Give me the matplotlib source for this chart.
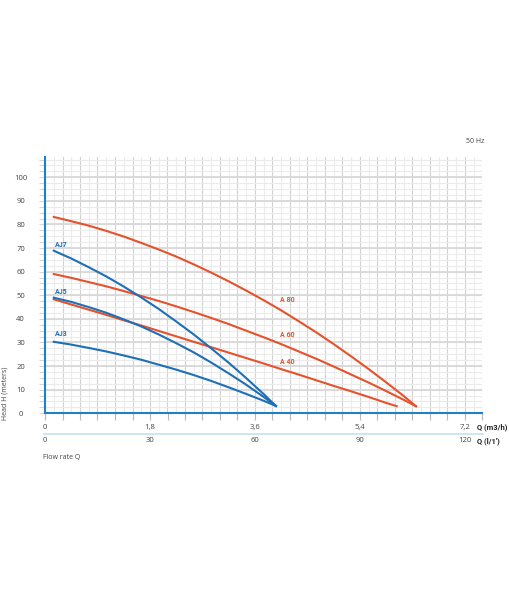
import numpy as np
import matplotlib
matplotlib.use("Agg")
import matplotlib.pyplot as plt
from matplotlib.transforms import blended_transform_factory
from matplotlib.lines import Line2D

plt.rcParams['font.family'] = ['Open Sans', 'DejaVu Sans']

# flow rate (m3/h) and head (m)
q_a = [0.15, 0.45, 0.75, 1.05, 1.35, 1.65, 1.95, 2.25, 2.55, 2.85, 3.15,
       3.45, 3.75, 4.05, 4.35, 4.65, 4.95, 5.25, 5.55, 5.85, 6.15, 6.36]
h_a80 = [83.2, 81.4, 79.5, 77.3, 74.9, 72.2, 69.4, 66.4, 63.1, 59.6, 55.9,
         52.0, 47.9, 43.6, 39.0, 34.3, 29.3, 24.1, 18.7, 13.1, 7.3, 3.0]
h_a60 = [59.0, 57.4, 55.6, 53.8, 51.8, 49.7, 47.6, 45.3, 42.9, 40.4, 37.8,
         35.0, 32.2, 29.3, 26.2, 23.1, 19.8, 16.4, 13.0, 9.4, 5.7, 3.0]
q_a40 = [0.15, 0.45, 0.75, 1.05, 1.35, 1.65, 1.95, 2.25, 2.55, 2.85, 3.15,
         3.45, 3.75, 4.05, 4.35, 4.65, 4.95, 5.25, 5.55, 5.85, 6.03]
h_a40 = [48.3, 46.1, 43.9, 41.7, 39.4, 37.2, 34.9, 32.6, 30.3, 28.0, 25.7,
         23.4, 21.1, 18.7, 16.4, 14.0, 11.6, 9.3, 6.9, 4.4, 3.0]

q_aj = [0.15, 0.45, 0.75, 1.05, 1.35, 1.65, 1.95, 2.25, 2.55, 2.85, 3.15,
        3.45, 3.75, 3.96]
h_aj7 = [68.9, 65.6, 61.9, 58.0, 53.7, 49.1, 44.2, 38.9, 33.4, 27.5, 21.4,
         14.9, 8.1, 3.1]
h_aj5 = [49.0, 47.2, 45.0, 42.6, 39.8, 36.8, 33.4, 29.7, 25.8, 21.5, 16.9,
         12.1, 6.9, 3.1]
h_aj3 = [30.3, 29.1, 27.7, 26.2, 24.5, 22.7, 20.6, 18.5, 16.2, 13.7, 11.0,
         8.2, 5.3, 3.1]

q_m3h_ticks = [0, 1.8, 3.6, 5.4, 7.2]
q_m3h_labels = ['0', '1,8', '3,6', '5,4', '7,2']
q_lmin_ticks = [0, 30, 60, 90, 120]
h_ticks = [0, 10, 20, 30, 40, 50, 60, 70, 80, 90, 100]

blue = '#1f6fb6'
red = '#e5522b'
spine_blue = '#1f80c6'
txt = '#444444'

fig = plt.figure(figsize=(5.1, 6.0), dpi=100)
ax = fig.add_axes([45 / 510, 1 - 413.3 / 600, 437.5 / 510, (413.3 - 157) / 600])
ax.set_xlim(0, 7.5)
ax.set_ylim(0, 108.6)

# grid
for x in np.arange(0.15, 7.5, 0.3):
    ax.axvline(x, color='#ececec', lw=0.8, zorder=0)
for x in np.arange(0.3, 7.51, 0.3):
    ax.axvline(x, color='#d2d2d2', lw=0.8, zorder=0)
for y in np.arange(2.5, 108.6, 2.5):
    ax.axhline(y, color='#ebebeb', lw=0.8, zorder=0)
for y in np.arange(10, 101, 10):
    ax.axhline(y, color='#d6d6d6', lw=1.2, zorder=0)

# curves
ax.plot(q_a, h_a80, color=red, lw=1.5, zorder=3)
ax.plot(q_a, h_a60, color=red, lw=1.5, zorder=3)
ax.plot(q_a40, h_a40, color=red, lw=1.5, zorder=3)
ax.plot(q_aj, h_aj7, color=blue, lw=1.5, zorder=4)
ax.plot(q_aj, h_aj5, color=blue, lw=1.5, zorder=4)
ax.plot(q_aj, h_aj3, color=blue, lw=1.5, zorder=4)

# curve labels
lbl = dict(fontsize=5, fontweight='bold', va='center', ha='left',
           family=['Roboto', 'DejaVu Sans'])
ax.text(0.17, 71.4, 'AJ7', color=blue, **lbl)
ax.text(0.17, 51.5, 'AJ5', color=blue, **lbl)
ax.text(0.17, 33.6, 'AJ3', color=blue, **lbl)
ax.text(4.03, 47.8, 'A 80', color=red, **lbl)
ax.text(4.03, 33.2, 'A 60', color=red, **lbl)
ax.text(4.03, 21.6, 'A 40', color=red, **lbl)

# spines
for s in ['top', 'right']:
    ax.spines[s].set_visible(False)
ax.spines['left'].set_color(spine_blue)
ax.spines['bottom'].set_color(spine_blue)
ax.spines['left'].set_linewidth(1.5)
ax.spines['bottom'].set_linewidth(1.5)

# ticks
ax.set_yticks(h_ticks)
ax.set_yticks(np.arange(2.5, 108.6, 2.5), minor=True)
ax.tick_params(axis='y', which='both', length=4, width=0.8, color='#d6d6d6',
               labelsize=5.5, labelcolor=txt, pad=13.5)
for t in ax.get_yticklabels():
    t.set_horizontalalignment('center')

ax.set_xticks(q_m3h_ticks, q_m3h_labels)
ax.set_xticks(np.arange(0, 7.51, 0.3), minor=True)
ax.tick_params(axis='x', which='both', length=5, width=0.8, color='#b8b8b8',
               labelsize=5.5, labelcolor=txt, pad=2.5)

# second flow scale (l/min)
tr = blended_transform_factory(ax.transData, fig.transFigure)
for q in q_lmin_ticks:
    ax.text(q * 0.06, 1 - 441 / 600, str(q), transform=tr, ha='center', va='center',
            fontsize=5.5, color=txt)
fig.add_artist(Line2D([44 / 510, 483 / 510], [1 - 434 / 600, 1 - 434 / 600],
                      transform=fig.transFigure, color='#cde5f4', lw=1.4))

qlbl = dict(fontsize=5.5, fontweight='bold', color='#222222', va='center',
            ha='left', family=['Roboto', 'DejaVu Sans'])
fig.text(477 / 510, 1 - 427 / 600, 'Q (m3/h)', **qlbl)
fig.text(477 / 510, 1 - 441 / 600, "Q (l/1')", **qlbl)

fig.text(5 / 510, 1 - 393 / 600, 'Head H (meters)', rotation=90, fontsize=5,
         color=txt, va='center', ha='center')
fig.text(43 / 510, 1 - 457 / 600, 'Flow rate Q', fontsize=5, color=txt,
         va='center', ha='left')
fig.text(484 / 510, 1 - 141.7 / 600, '50 Hz', fontsize=5, color=txt,
         va='center', ha='right')

fig.savefig('out.png', dpi=100)
